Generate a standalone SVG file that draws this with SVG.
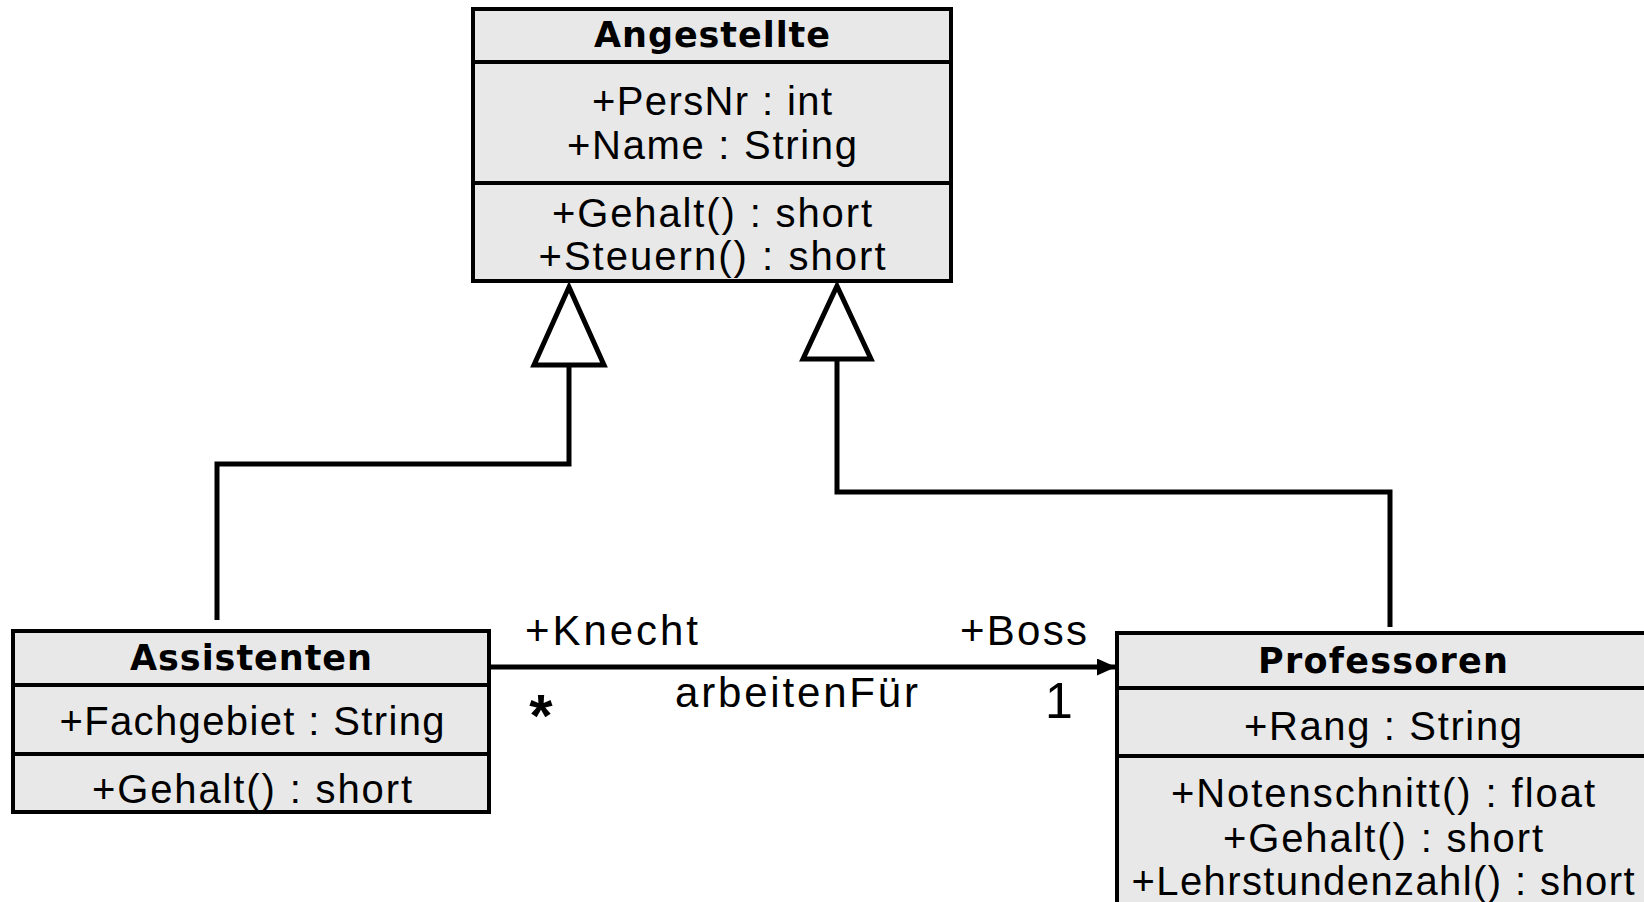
<svg xmlns="http://www.w3.org/2000/svg" width="1644" height="902" viewBox="0 0 1644 902">
<defs>
<style>
.box{fill:#e8e8e8;stroke:#000;stroke-width:4}
.div{stroke:#000;stroke-width:4;fill:none}
.t{font-family:"Liberation Sans",Arial,sans-serif;font-size:40px;fill:#000;text-anchor:middle}
.tl{font-family:"Liberation Sans",Arial,sans-serif;font-size:42px;fill:#000}
.h{font-family:"DejaVu Sans",Verdana,sans-serif;font-weight:bold;font-size:35px;fill:#000;text-anchor:middle}
.con{fill:none;stroke:#000;stroke-width:5}
.tri{fill:#fff;stroke:#000;stroke-width:5;stroke-linejoin:miter}
</style>
<marker id="arr" markerWidth="19" markerHeight="17" refX="19" refY="8.5" orient="auto" markerUnits="userSpaceOnUse">
<path d="M0,0 L19,8.5 L0,17 Z" fill="#000"/>
</marker>
</defs>
<rect width="1644" height="902" fill="#fff"/>

<g id="connectors">
<path class="con" d="M217,620 V464 H569 V365"/>
<polygon class="tri" points="569,287 604,365 534,365"/>
<path class="con" d="M1390,627 V492 H837 V359"/>
<polygon class="tri" points="837,286 871,359 803,359"/>
<path class="con" d="M489,667 H1116" marker-end="url(#arr)"/>
<text class="tl" x="525" y="645" textLength="173" lengthAdjust="spacing">+Knecht</text>
<text class="tl" x="960" y="645" textLength="127" lengthAdjust="spacing">+Boss</text>
<text class="tl" x="675" y="707" textLength="243" lengthAdjust="spacing">arbeitenFür</text>
<text x="541" y="736" style="font-family:'Liberation Sans',Arial,sans-serif;font-weight:bold;font-size:60px;text-anchor:middle">*</text>
<text x="1059" y="718" style="font-family:'Liberation Sans',Arial,sans-serif;font-size:50px;text-anchor:middle">1</text>
</g>

<g id="Angestellte">
<rect class="box" x="473" y="9" width="478" height="272"/>
<line class="div" x1="473" y1="62" x2="951" y2="62"/>
<line class="div" x1="473" y1="183" x2="951" y2="183"/>
<text class="h" x="712" y="47" textLength="236" lengthAdjust="spacing">Angestellte</text>
<text class="t" x="712" y="115" textLength="240" lengthAdjust="spacing">+PersNr : int</text>
<text class="t" x="712" y="159" textLength="290" lengthAdjust="spacing">+Name : String</text>
<text class="t" x="712" y="227" textLength="320" lengthAdjust="spacing">+Gehalt() : short</text>
<text class="t" x="712" y="270" textLength="347" lengthAdjust="spacing">+Steuern() : short</text>
</g>

<g id="Assistenten">
<rect class="box" x="13" y="631" width="476" height="181"/>
<line class="div" x1="13" y1="685" x2="489" y2="685"/>
<line class="div" x1="13" y1="754" x2="489" y2="754"/>
<text class="h" x="251" y="670" textLength="242" lengthAdjust="spacing">Assistenten</text>
<text class="t" x="252" y="735" textLength="385" lengthAdjust="spacing">+Fachgebiet : String</text>
<text class="t" x="252" y="803" textLength="320" lengthAdjust="spacing">+Gehalt() : short</text>
</g>

<g id="Professoren">
<rect class="box" x="1117" y="633" width="560" height="300"/>
<line class="div" x1="1117" y1="688" x2="1677" y2="688"/>
<line class="div" x1="1117" y1="756" x2="1677" y2="756"/>
<text class="h" x="1383" y="673" textLength="250" lengthAdjust="spacing">Professoren</text>
<text class="t" x="1383" y="740" textLength="278" lengthAdjust="spacing">+Rang : String</text>
<text class="t" x="1383" y="807" textLength="424" lengthAdjust="spacing">+Notenschnitt() : float</text>
<text class="t" x="1383" y="852" textLength="320" lengthAdjust="spacing">+Gehalt() : short</text>
<text class="t" x="1383" y="895" textLength="503" lengthAdjust="spacing">+Lehrstundenzahl() : short</text>
</g>
</svg>
